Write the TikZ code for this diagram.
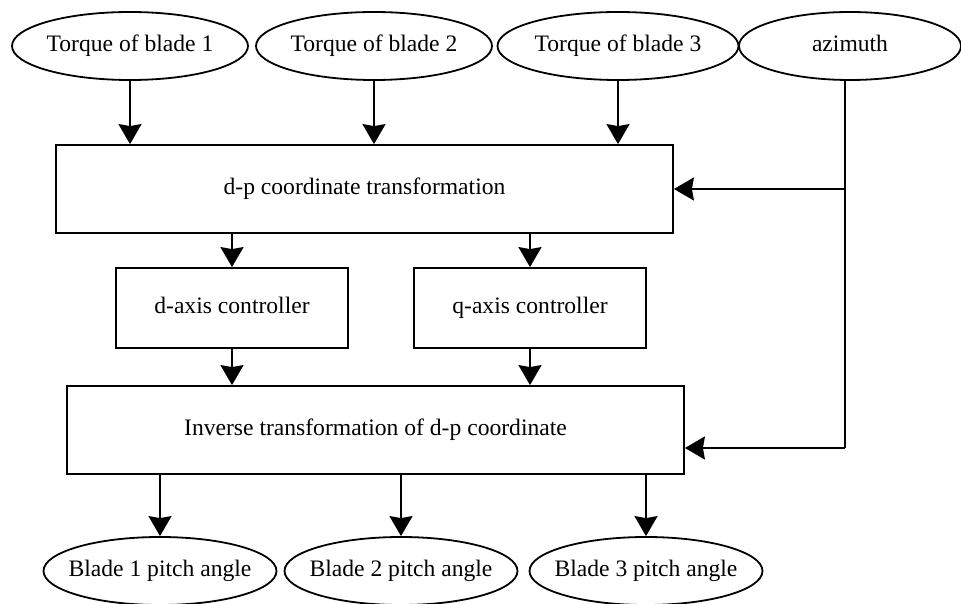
\documentclass[tikz,border=0pt]{standalone}
\usepackage{fontspec}
\setmainfont{Liberation Serif}
\usetikzlibrary{arrows.meta,shapes.geometric}
\newcommand{\zw}[1]{\makebox[0pt]{#1}}
\begin{document}
\begin{tikzpicture}[x=1pt,y=-1pt,
  every node/.style={font=\fontsize{23.6}{27}\selectfont, line width=1.8pt, inner sep=0pt,
    text height=16pt, text depth=5pt},
  oval/.style={draw, ellipse, minimum height=68pt},
  blk/.style={draw, rectangle},
  arr/.style={line width=2pt, -{Stealth[length=20pt, width=23pt, inset=2pt]}},
  ln/.style={line width=1.8pt}]
\useasboundingbox (0,0) rectangle (961,604);
\node[oval, minimum width=236pt] (t1) at (130,46) {\zw{Torque of blade 1}};
\node[oval, minimum width=236pt] (t2) at (374,46) {\zw{Torque of blade 2}};
\node[oval, minimum width=241pt] (t3) at (618,46) {\zw{Torque of blade 3}};
\node[oval, minimum width=222pt] (az) at (850,46) {\zw{azimuth}};
\node[blk, minimum width=617pt, minimum height=88pt] (dp) at (364.5,189) {d-p coordinate transformation};
\node[blk, minimum width=232pt, minimum height=80pt] (dc) at (232,308) {d-axis controller};
\node[blk, minimum width=232pt, minimum height=80pt] (qc) at (530,308) {q-axis controller};
\node[blk, minimum width=617pt, minimum height=88pt] (inv) at (375.5,430) {Inverse transformation of d-p coordinate};
\node[oval, minimum width=233pt] (b1) at (160,571) {\zw{Blade 1 pitch angle}};
\node[oval, minimum width=233pt] (b2) at (401,571) {\zw{Blade 2 pitch angle}};
\node[oval, minimum width=233pt] (b3) at (646,571) {\zw{Blade 3 pitch angle}};
\coordinate (j0) at (845,0 |- az.south);
\coordinate (j1) at (j0 |- dp.east);
\coordinate (j2) at (845,448);
\draw[arr] (t1.south) -- (t1.south |- dp.north);
\draw[arr] (t2.south) -- (t2.south |- dp.north);
\draw[arr] (t3.south) -- (t3.south |- dp.north);
\draw[ln] (j0) -- (j2);
\draw[arr] (j1) -- (dp.east);
\draw[arr] (j2) -- (j2 -| inv.east);
\draw[arr] (dc.north |- dp.south) -- (dc.north);
\draw[arr] (qc.north |- dp.south) -- (qc.north);
\draw[arr] (dc.south) -- (dc.south |- inv.north);
\draw[arr] (qc.south) -- (qc.south |- inv.north);
\draw[arr] (b1.north |- inv.south) -- (b1.north);
\draw[arr] (b2.north |- inv.south) -- (b2.north);
\draw[arr] (b3.north |- inv.south) -- (b3.north);
\end{tikzpicture}
\end{document}
